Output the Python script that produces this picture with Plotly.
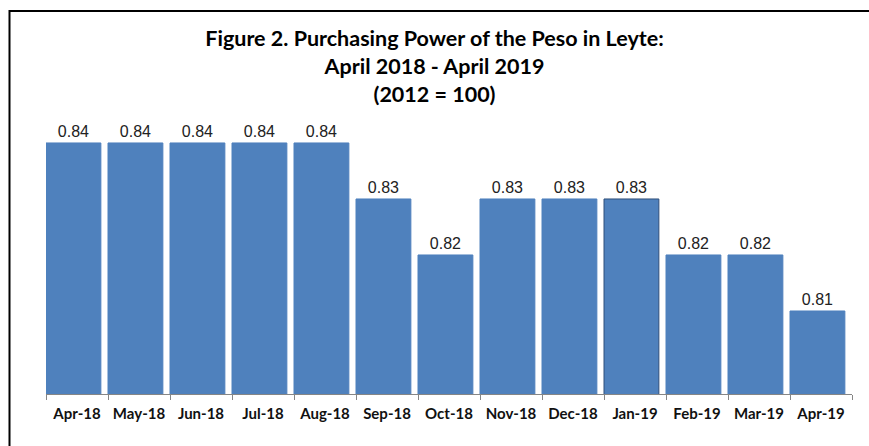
import plotly.graph_objects as go

months = ["Apr-18", "May-18", "Jun-18", "Jul-18", "Aug-18", "Sep-18", "Oct-18",
          "Nov-18", "Dec-18", "Jan-19", "Feb-19", "Mar-19", "Apr-19"]
ppp = [0.84, 0.84, 0.84, 0.84, 0.84, 0.83, 0.82, 0.83, 0.83, 0.83, 0.82, 0.82, 0.81]

title_lines = ["Figure 2. Purchasing Power of the Peso in Leyte:",
               "April 2018 - April 2019",
               "(2012 = 100)"]

W, H = 869, 446
L, R, T, B = 46, 17, 120, 52

bar_color = "#4F81BD"
line_colors = [bar_color] * len(months)
line_colors[months.index("Jan-19")] = "#2F4F7A"

fig = go.Figure(go.Bar(
    x=months, y=ppp,
    width=0.885, offset=-0.5,
    marker=dict(color=bar_color, line=dict(color=line_colors, width=1)),
    text=[f"{v:.2f}" for v in ppp],
    textposition="outside",
    textfont=dict(family="Liberation Sans, Arial", size=16, color="#222222"),
    cliponaxis=False,
))

pw = W - L - R
ph = H - T - B
def px_x(p):
    return (p - L) / pw
def px_y(p):
    return (H - B - p) / ph

fig.add_shape(type="path", xref="paper", yref="paper",
              path=f"M {px_x(9.5)} {px_y(446)} L {px_x(9.5)} {px_y(11)} L {px_x(869)} {px_y(11)}",
              line=dict(color="black", width=2))

fig.update_layout(
    width=W, height=H,
    margin=dict(l=L, r=R, t=T, b=B, autoexpand=False),
    paper_bgcolor="white", plot_bgcolor="white",
    showlegend=False,
    title=dict(text="<br>".join(title_lines), x=0.5, xref="container", xanchor="center",
               y=1 - 46 / H, yref="container", yanchor="top",
               font=dict(family="Lato, Open Sans, sans-serif", size=21.5, color="black", weight="bold")),
    xaxis=dict(showline=True, linecolor="#868686", linewidth=1,
               ticks="outside", tickson="boundaries", ticklen=5, tickcolor="#868686",
               ticklabelstandoff=6,
               tickfont=dict(family="Lato, Open Sans, sans-serif", size=15, color="#111111", weight="bold"),
               showgrid=False, fixedrange=True),
    yaxis=dict(visible=False, range=[0.79518, 0.8441], showgrid=False, zeroline=False),
)

fig.write_html("out.html", config={"displayModeBar": False},
               post_script="document.body.style.margin='0';")
